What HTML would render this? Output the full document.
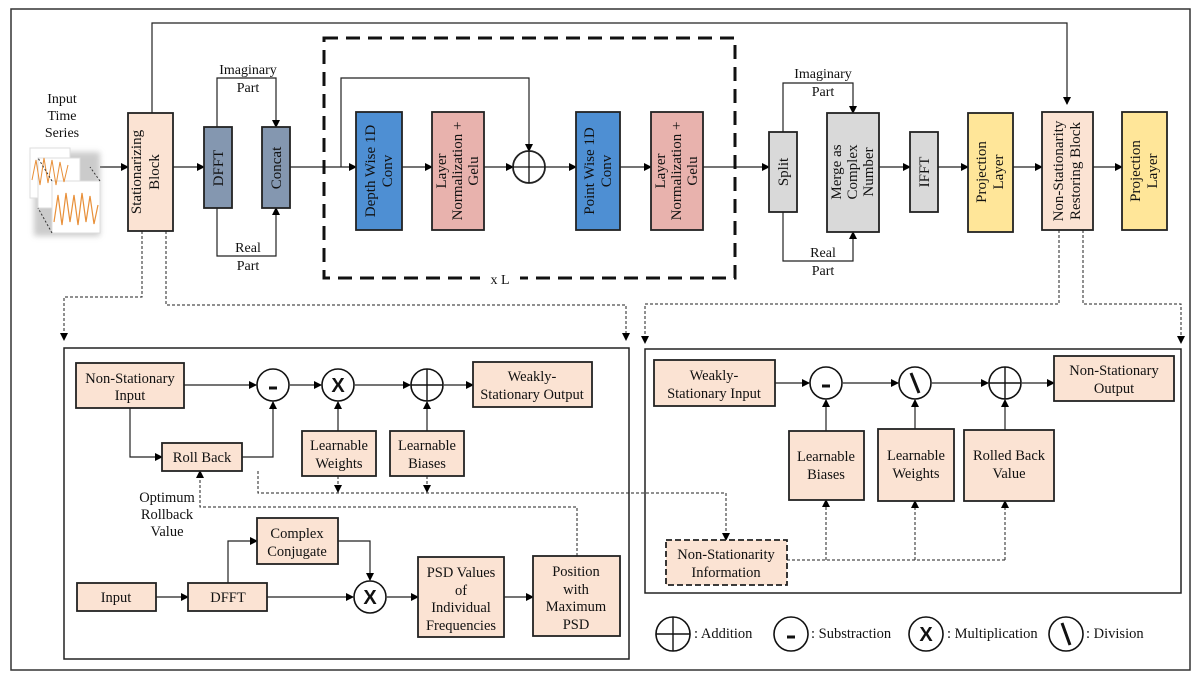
<!DOCTYPE html>
<html><head><meta charset="utf-8"><style>
body{margin:0;background:#fff}
svg{display:block}
text{font-family:"Liberation Serif",serif;font-size:14px;fill:#111}
</style></head><body>
<svg width="1200" height="680" viewBox="0 0 1200 680" xmlns="http://www.w3.org/2000/svg">
<defs>
<marker id="a" markerWidth="8" markerHeight="8" refX="7" refY="4" orient="auto" markerUnits="userSpaceOnUse"><path d="M0,0 L8,4 L0,8 z" fill="#000"/></marker>
<filter id="sh"><feGaussianBlur stdDeviation="3"/></filter>
</defs>
<rect x="11" y="9" width="1179" height="661" fill="none" stroke="#333" stroke-width="1.5"/>
<g stroke="#222" stroke-width="1.2" fill="none">
<polyline points="152,113 152,23 1067,23 1067,104" marker-end="url(#a)"/>
<line x1="100" y1="167" x2="128" y2="167" marker-end="url(#a)"/>
<line x1="173" y1="167" x2="204" y2="167" marker-end="url(#a)"/>
<polyline points="217,127 217,78 276,78 276,127" marker-end="url(#a)"/>
<polyline points="217,208 217,256 276,256 276,208" marker-end="url(#a)"/>
<line x1="290" y1="167" x2="356" y2="167" marker-end="url(#a)"/>
<polyline points="341,167 341,78 529,78 529,151" marker-end="url(#a)"/>
<line x1="402" y1="167" x2="432" y2="167" marker-end="url(#a)"/>
<line x1="484" y1="167" x2="513" y2="167" marker-end="url(#a)"/>
<line x1="545" y1="167" x2="576" y2="167" marker-end="url(#a)"/>
<line x1="620" y1="167" x2="651" y2="167" marker-end="url(#a)"/>
<line x1="703" y1="167" x2="769" y2="167" marker-end="url(#a)"/>
<polyline points="783,132 783,83 853,83 853,113" marker-end="url(#a)"/>
<polyline points="783,212 783,261 853,261 853,232" marker-end="url(#a)"/>
<line x1="879" y1="167" x2="910" y2="167" marker-end="url(#a)"/>
<line x1="938" y1="167" x2="968" y2="167" marker-end="url(#a)"/>
<line x1="1013" y1="167" x2="1042" y2="167" marker-end="url(#a)"/>
<line x1="1093" y1="167" x2="1122" y2="167" marker-end="url(#a)"/>
</g>
<rect x="324" y="38" width="411" height="240" fill="none" stroke="#111" stroke-width="3" stroke-dasharray="14,8"/>
<rect x="480" y="268" width="40" height="20" fill="#fff"/>
<text x="500" y="284" text-anchor="middle" font-size="16">x L</text>
<g>
<rect x="34" y="152" width="66" height="84" fill="#999" filter="url(#sh)" opacity=".5"/>
<rect x="30" y="148" width="40" height="50" fill="#fff" stroke="#ddd"/>
<rect x="38" y="158" width="42" height="50" fill="#fff" stroke="#ddd"/>
<rect x="52" y="181" width="48" height="52" fill="#fff" stroke="#ddd"/>
<polyline points="32,180 36,160 40,185 44,158 48,183 52,160 56,185 60,162 64,182 68,165" fill="none" stroke="#e8903a" stroke-width="1"/>
<polyline points="54,222 58,195 62,225 66,193 70,222 74,195 78,225 82,193 86,222 90,196 94,224 98,205" fill="none" stroke="#e8903a" stroke-width="1.2"/>
<line x1="52" y1="181" x2="38" y2="158" stroke="#333" stroke-dasharray="2,2"/>
<line x1="100" y1="181" x2="90" y2="167" stroke="#333" stroke-dasharray="2,2"/>
<line x1="52" y1="233" x2="38" y2="208" stroke="#333" stroke-dasharray="2,2"/>
</g>
<text x="62" y="103" text-anchor="middle">Input</text>
<text x="62" y="120" text-anchor="middle">Time</text>
<text x="62" y="137" text-anchor="middle">Series</text>
<g stroke="#222" stroke-width="1.8">
<rect x="128" y="113" width="45" height="118" fill="#fbe3d3"/>
<rect x="204" y="127" width="28" height="81" fill="#8497b0"/>
<rect x="262" y="127" width="28" height="81" fill="#8497b0"/>
<rect x="356" y="112" width="46" height="118" fill="#4e8fd3"/>
<rect x="432" y="112" width="52" height="118" fill="#e8b2ad"/>
<circle cx="529" cy="167" r="16" fill="#fff"/>
<rect x="576" y="112" width="44" height="118" fill="#4e8fd3"/>
<rect x="651" y="112" width="52" height="118" fill="#e8b2ad"/>
<rect x="769" y="132" width="28" height="80" fill="#d9d9d9"/>
<rect x="827" y="113" width="52" height="119" fill="#d9d9d9"/>
<rect x="910" y="132" width="28" height="80" fill="#d9d9d9"/>
<rect x="968" y="113" width="45" height="119" fill="#ffe699"/>
<rect x="1042" y="112" width="51" height="118" fill="#fbe3d3"/>
<rect x="1122" y="112" width="45" height="118" fill="#ffe699"/>
</g>
<g stroke="#111" stroke-width="1.3"><line x1="513" y1="167" x2="545" y2="167"/><line x1="529" y1="151" x2="529" y2="183"/></g>
<g style="font-size:15px">
<text style="font-size:15px" transform="translate(150,172) rotate(-90)" text-anchor="middle"><tspan x="0" dy="-9">Stationarizing</tspan><tspan x="0" dy="18">Block</tspan></text>
<text style="font-size:15px" transform="translate(223,168) rotate(-90)" text-anchor="middle">DFFT</text>
<text style="font-size:15px" transform="translate(281,168) rotate(-90)" text-anchor="middle">Concat</text>
<text style="font-size:15px" transform="translate(379,171) rotate(-90)" text-anchor="middle"><tspan x="0" dy="-4">Depth Wise 1D</tspan><tspan x="0" dy="17">Conv</tspan></text>
<text style="font-size:15px" transform="translate(458,171) rotate(-90)" text-anchor="middle"><tspan x="0" dy="-12">Layer</tspan><tspan x="0" dy="16">Normalization  +</tspan><tspan x="0" dy="16">Gelu</tspan></text>
<text style="font-size:15px" transform="translate(598,171) rotate(-90)" text-anchor="middle"><tspan x="0" dy="-4">Point Wise 1D</tspan><tspan x="0" dy="17">Conv</tspan></text>
<text style="font-size:15px" transform="translate(677,171) rotate(-90)" text-anchor="middle"><tspan x="0" dy="-12">Layer</tspan><tspan x="0" dy="16">Normalization  +</tspan><tspan x="0" dy="16">Gelu</tspan></text>
<text style="font-size:15px" transform="translate(788,172) rotate(-90)" text-anchor="middle">Split</text>
<text style="font-size:15px" transform="translate(853,172) rotate(-90)" text-anchor="middle"><tspan x="0" dy="-12">Merge as</tspan><tspan x="0" dy="16">Complex</tspan><tspan x="0" dy="16">Number</tspan></text>
<text style="font-size:15px" transform="translate(929,172) rotate(-90)" text-anchor="middle">IFFT</text>
<text style="font-size:15px" transform="translate(990,172) rotate(-90)" text-anchor="middle"><tspan x="0" dy="-4">Projection</tspan><tspan x="0" dy="17">Layer</tspan></text>
<text style="font-size:15px" transform="translate(1067,171) rotate(-90)" text-anchor="middle"><tspan x="0" dy="-4">Non-Stationarity</tspan><tspan x="0" dy="17">Restoring Block</tspan></text>
<text style="font-size:15px" transform="translate(1144,171) rotate(-90)" text-anchor="middle"><tspan x="0" dy="-4">Projection</tspan><tspan x="0" dy="17">Layer</tspan></text>
</g>
<text x="248" y="74" text-anchor="middle">Imaginary</text><text x="248" y="92" text-anchor="middle">Part</text>
<text x="248" y="252" text-anchor="middle">Real</text><text x="248" y="270" text-anchor="middle">Part</text>
<text x="823" y="78" text-anchor="middle">Imaginary</text><text x="823" y="96" text-anchor="middle">Part</text>
<text x="823" y="257" text-anchor="middle">Real</text><text x="823" y="275" text-anchor="middle">Part</text>
<g stroke="#222" stroke-width="1" fill="none" stroke-dasharray="3,2">
<polyline points="142,231 142,297 64,297 64,340" marker-end="url(#a)"/>
<polyline points="166,231 166,305 626,305 626,340" marker-end="url(#a)"/>
<polyline points="1059,230 1059,304 645,304 645,343" marker-end="url(#a)"/>
<polyline points="1083,230 1083,304 1181,304 1181,343" marker-end="url(#a)"/>
<polyline points="258,471 258,493 726,493 726,540" marker-end="url(#a)"/>
<line x1="338" y1="476" x2="338" y2="492" marker-end="url(#a)"/>
<line x1="427" y1="476" x2="427" y2="492" marker-end="url(#a)"/>
<polyline points="577,556 577,507 200,507 200,471" marker-end="url(#a)"/>
<polyline points="787,560 1005,560"/>
<line x1="826" y1="560" x2="826" y2="500" marker-end="url(#a)"/>
<line x1="915" y1="560" x2="915" y2="501" marker-end="url(#a)"/>
<line x1="1005" y1="560" x2="1005" y2="501" marker-end="url(#a)"/>
</g>
<rect x="64" y="348" width="565" height="311" fill="none" stroke="#222" stroke-width="1.5"/>
<rect x="645" y="349" width="536" height="244" fill="none" stroke="#222" stroke-width="1.5"/>
<g stroke="#222" stroke-width="1.2" fill="none">
<line x1="184" y1="385" x2="256" y2="385" marker-end="url(#a)"/>
<line x1="290" y1="385" x2="321" y2="385" marker-end="url(#a)"/>
<line x1="355" y1="385" x2="410" y2="385" marker-end="url(#a)"/>
<line x1="444" y1="385" x2="473" y2="385" marker-end="url(#a)"/>
<polyline points="130,408 130,457 162,457" marker-end="url(#a)"/>
<polyline points="242,457 273,457 273,402" marker-end="url(#a)"/>
<line x1="338" y1="431" x2="338" y2="402" marker-end="url(#a)"/>
<line x1="427" y1="431" x2="427" y2="402" marker-end="url(#a)"/>
<line x1="156" y1="597" x2="188" y2="597" marker-end="url(#a)"/>
<polyline points="228,583 228,541 257,541" marker-end="url(#a)"/>
<polyline points="338,541 370,541 370,580" marker-end="url(#a)"/>
<line x1="267" y1="597" x2="353" y2="597" marker-end="url(#a)"/>
<line x1="387" y1="597" x2="418" y2="597" marker-end="url(#a)"/>
<line x1="504" y1="597" x2="533" y2="597" marker-end="url(#a)"/>
<line x1="775" y1="383" x2="809" y2="383" marker-end="url(#a)"/>
<line x1="843" y1="383" x2="898" y2="383" marker-end="url(#a)"/>
<line x1="932" y1="383" x2="988" y2="383" marker-end="url(#a)"/>
<line x1="1022" y1="383" x2="1054" y2="383" marker-end="url(#a)"/>
<line x1="826" y1="431" x2="826" y2="400" marker-end="url(#a)"/>
<line x1="915" y1="429" x2="915" y2="400" marker-end="url(#a)"/>
<line x1="1005" y1="430" x2="1005" y2="400" marker-end="url(#a)"/>
</g>
<g stroke="#222" stroke-width="1.8" fill="#fbe3d3">
<rect x="76" y="363" width="108" height="45"/>
<rect x="473" y="362" width="119" height="45"/>
<rect x="162" y="443" width="80" height="28"/>
<rect x="302" y="431" width="74" height="45"/>
<rect x="390" y="431" width="74" height="45"/>
<rect x="257" y="518" width="81" height="46"/>
<rect x="77" y="583" width="79" height="28"/>
<rect x="188" y="583" width="79" height="28"/>
<rect x="418" y="557" width="86" height="80"/>
<rect x="533" y="556" width="87" height="80"/>
<rect x="654" y="360" width="121" height="46"/>
<rect x="1054" y="356" width="120" height="45"/>
<rect x="789" y="431" width="75" height="69"/>
<rect x="878" y="429" width="76" height="72"/>
<rect x="964" y="430" width="90" height="71"/>
<rect x="666" y="540" width="121" height="45" stroke-dasharray="6,3"/>
</g>
<g stroke="#111" stroke-width="1.6" fill="#fff">
<circle cx="273" cy="385" r="16"/><circle cx="338" cy="385" r="16"/><circle cx="427" cy="385" r="16"/>
<circle cx="370" cy="597" r="16"/>
<circle cx="826" cy="383" r="16"/><circle cx="915" cy="383" r="16"/><circle cx="1005" cy="383" r="16"/>
<circle cx="673" cy="634" r="17"/><circle cx="791" cy="634" r="17"/><circle cx="926" cy="634" r="17"/><circle cx="1066" cy="634" r="17"/>
</g>
<g stroke="#111" stroke-width="1.4">
<line x1="411" y1="385" x2="443" y2="385"/><line x1="427" y1="369" x2="427" y2="401"/>
<line x1="989" y1="383" x2="1021" y2="383"/><line x1="1005" y1="367" x2="1005" y2="399"/>
<line x1="656" y1="634" x2="690" y2="634"/><line x1="673" y1="617" x2="673" y2="651"/>
</g>
<g stroke="#111" stroke-width="3">
<line x1="269" y1="388" x2="277" y2="388"/><line x1="822" y1="386" x2="830" y2="386"/><line x1="787" y1="637" x2="795" y2="637"/>
<line x1="911" y1="373" x2="919" y2="393"/><line x1="1062" y1="623" x2="1070" y2="645"/>
</g>
<text x="338" y="392" text-anchor="middle" style="font-family:'Liberation Sans',sans-serif;font-size:20px;font-weight:bold">X</text>
<text x="370" y="604" text-anchor="middle" style="font-family:'Liberation Sans',sans-serif;font-size:20px;font-weight:bold">X</text>
<text x="926" y="641" text-anchor="middle" style="font-family:'Liberation Sans',sans-serif;font-size:20px;font-weight:bold">X</text>
<g text-anchor="middle" style="font-size:14.5px">
<text style="font-size:14.5px" x="130" y="383">Non-Stationary</text><text style="font-size:14.5px" x="130" y="400">Input</text>
<text style="font-size:14.5px" x="532" y="381">Weakly-</text><text style="font-size:14.5px" x="532" y="399">Stationary Output</text>
<text style="font-size:14.5px" x="202" y="462">Roll Back</text>
<text style="font-size:14.5px" x="339" y="450">Learnable</text><text style="font-size:14.5px" x="339" y="468">Weights</text>
<text style="font-size:14.5px" x="427" y="450">Learnable</text><text style="font-size:14.5px" x="427" y="468">Biases</text>
<text style="font-size:14.5px" x="167" y="502">Optimum</text><text style="font-size:14.5px" x="167" y="519">Rollback</text><text style="font-size:14.5px" x="167" y="536">Value</text>
<text style="font-size:14.5px" x="297" y="538">Complex</text><text style="font-size:14.5px" x="297" y="556">Conjugate</text>
<text style="font-size:14.5px" x="116" y="602">Input</text><text style="font-size:14.5px" x="228" y="602">DFFT</text>
<text style="font-size:14.5px" x="461" y="577">PSD Values</text><text style="font-size:14.5px" x="461" y="595">of</text><text style="font-size:14.5px" x="461" y="612">Individual</text><text style="font-size:14.5px" x="461" y="630">Frequencies</text>
<text style="font-size:14.5px" x="576" y="576">Position</text><text style="font-size:14.5px" x="576" y="594">with</text><text style="font-size:14.5px" x="576" y="611">Maximum</text><text style="font-size:14.5px" x="576" y="629">PSD</text>
<text style="font-size:14.5px" x="714" y="380">Weakly-</text><text style="font-size:14.5px" x="714" y="398">Stationary Input</text>
<text style="font-size:14.5px" x="1114" y="375">Non-Stationary</text><text style="font-size:14.5px" x="1114" y="393">Output</text>
<text style="font-size:14.5px" x="826" y="461">Learnable</text><text style="font-size:14.5px" x="826" y="479">Biases</text>
<text style="font-size:14.5px" x="916" y="460">Learnable</text><text style="font-size:14.5px" x="916" y="478">Weights</text>
<text style="font-size:14.5px" x="1009" y="460">Rolled Back</text><text style="font-size:14.5px" x="1009" y="478">Value</text>
<text style="font-size:14.5px" x="726" y="559">Non-Stationarity</text><text style="font-size:14.5px" x="726" y="577">Information</text>
</g>
<text style="font-size:14.5px" x="694" y="638">: Addition</text>
<text style="font-size:14.5px" x="811" y="638">: Substraction</text>
<text style="font-size:14.5px" x="947" y="638">: Multiplication</text>
<text style="font-size:14.5px" x="1086" y="638">: Division</text>
</svg>
</body></html>
